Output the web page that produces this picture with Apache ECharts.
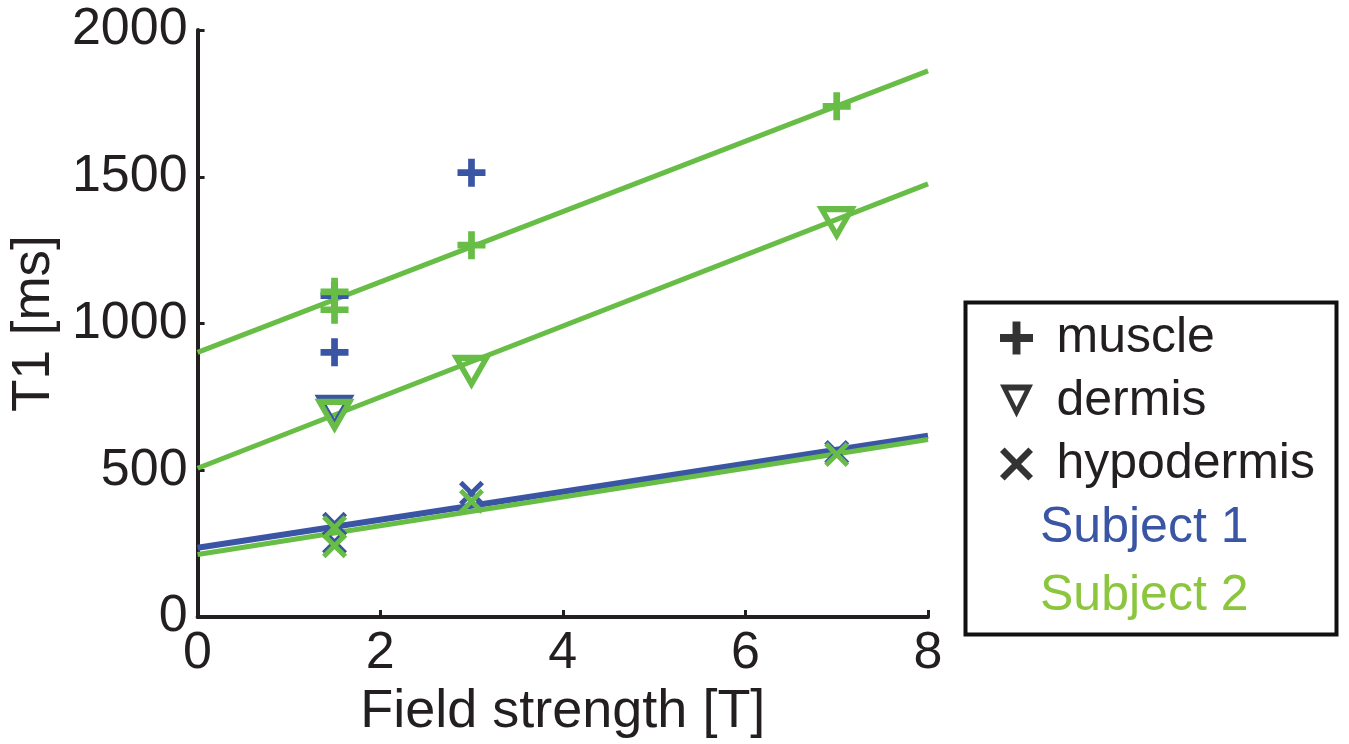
<!DOCTYPE html>
<html>
<head>
<meta charset="utf-8">
<script src="https://cdn.jsdelivr.net/npm/echarts@6/dist/echarts.min.js"></script>
<style>
html,body{margin:0;padding:0;background:#fff;}
#chart{width:1349px;height:744px;}
</style>
</head>
<body>
<div id="chart"></div>
<script>
// ---- data ----
const xTicks = [0, 2, 4, 6, 8];
const yTicks = [0, 500, 1000, 1500, 2000];
const tissues = ['muscle', 'dermis', 'hypodermis'];
const subjects = ['Subject 1', 'Subject 2'];

// Subject 1 (blue) measurements [field T, T1 ms]
const muscleS1 = [[1.5, 1095], [1.5, 902], [3, 1514]];
const dermisS1 = [[1.5, 698]];
const hypoS1 = [[1.5, 316], [1.5, 255], [3, 422], [7, 561]];

// Subject 2 (green) measurements
const muscleS2 = [[1.5, 1108], [1.5, 1047], [3, 1267], [7, 1740]];
const dermisS2 = [[1.5, 684], [3, 834], [7, 1341]];
const hypoS2 = [[1.5, 304], [1.5, 243], [3, 395], [7, 554]];

// Linear fit lines (end points)
const hypoFitS1 = [[0, 236], [8, 618]];
const muscleFitS2 = [[0, 902], [8, 1861]];
const dermisFitS2 = [[0, 507], [8, 1476]];
const hypoFitS2 = [[0, 213], [8, 605]];

// ---- styling ----
const BLUE = '#3b55a5';
const GREEN = '#67bd45';
const GREEN_TXT = '#8cc63f';
const INK = '#231f20';
const FONT = '"Liberation Sans", Arial, Helvetica, sans-serif';

const PLUS = 'path://M38,0 L62,0 L62,38 L100,38 L100,62 L62,62 L62,100 L38,100 L38,62 L0,62 L0,38 L38,38 Z';
const TRI = 'path://M0,0 L100,0 L50,100 Z M25,18 L50,68 L75,18 Z';
const CROSS = 'path://M0,14 L14,0 L50,36 L86,0 L100,14 L64,50 L100,86 L86,100 L50,64 L14,100 L0,86 L36,50 Z';

const symbols = { muscle: PLUS, dermis: TRI, hypodermis: CROSS };
const sizes = { muscle: [28, 28], dermis: [40, 35], hypodermis: [25, 25] };

function scatter(name, tissue, data, color) {
  return {
    type: 'scatter', name: name, data: data,
    symbol: symbols[tissue], symbolSize: sizes[tissue],
    itemStyle: { color: color, opacity: 1 },
    emphasis: { disabled: true }, silent: true, z: 3
  };
}
function fit(name, data, color, width) {
  return {
    type: 'line', name: name, data: data, showSymbol: false, symbol: 'none',
    lineStyle: { color: color, width: width }, itemStyle: { color: color },
    emphasis: { disabled: true }, silent: true, z: 3
  };
}

const series = [
  // Subject 1 (blue) first, so green lies over it
  scatter('Subject 1', 'muscle', muscleS1, BLUE),
  scatter('Subject 1', 'dermis', dermisS1, BLUE),
  scatter('Subject 1', 'hypodermis', hypoS1, BLUE),
  fit('Subject 1', hypoFitS1, BLUE, 6),
  fit('Subject 2', muscleFitS2, GREEN, 5),
  fit('Subject 2', dermisFitS2, GREEN, 5),
  fit('Subject 2', hypoFitS2, GREEN, 5),
  scatter('Subject 2', 'muscle', muscleS2, GREEN),
  scatter('Subject 2', 'dermis', dermisS2, GREEN),
  scatter('Subject 2', 'hypodermis', hypoS2, GREEN),
];
// legend-only series for the marker key
tissues.forEach(t => {
  series.push({
    type: 'scatter', name: t, data: [], symbol: symbols[t], symbolSize: sizes[t],
    itemStyle: { color: '#000' }
  });
});

const chart = echarts.init(document.getElementById('chart'));
chart.setOption({
  backgroundColor: '#fff',
  animation: false,
  grid: { left: 195, right: 421, top: 30, bottom: 122, containLabel: false },
  xAxis: {
    type: 'value', min: xTicks[0], max: xTicks[xTicks.length - 1], interval: 2,
    name: 'Field strength [T]', nameLocation: 'middle', nameGap: 62,
    nameTextStyle: { fontFamily: FONT, fontSize: 54, color: INK },
    axisLine: { onZero: false, lineStyle: { color: INK, width: 4 } },
    axisTick: { inside: true, length: 7, lineStyle: { color: INK, width: 3 } },
    axisLabel: { fontFamily: FONT, fontSize: 52, color: INK, margin: 11,
      formatter: v => String(v) },
    splitLine: { show: false }
  },
  yAxis: {
    type: 'value', min: yTicks[0], max: yTicks[yTicks.length - 1], interval: 500,
    name: 'T1 [ms]', nameLocation: 'middle', nameGap: 134,
    nameTextStyle: { fontFamily: FONT, fontSize: 53, color: INK },
    axisLine: { show: true, onZero: false, lineStyle: { color: INK, width: 4 } },
    axisTick: { show: true, inside: true, length: 7, lineStyle: { color: INK, width: 3 } },
    axisLabel: { fontFamily: FONT, fontSize: 52, color: INK, margin: 10,
      formatter: v => String(v) },
    splitLine: { show: false }
  },
  legend: [
    {
      orient: 'vertical', left: 1000, top: 313, padding: 0,
      itemWidth: 70, itemHeight: 33, itemGap: 13, selectedMode: false,
      data: tissues.map(t => ({ name: t, icon: symbols[t], itemStyle: { color: '#000' } })),
      textStyle: { fontFamily: FONT, fontSize: 50, color: INK }
    },
    {
      orient: 'vertical', left: 1000, top: 503, padding: 0,
      itemWidth: 35, itemHeight: 20, itemGap: 18, selectedMode: false,
      data: [
        { name: subjects[0], icon: 'none', textStyle: { color: BLUE } },
        { name: subjects[1], icon: 'none', textStyle: { color: GREEN_TXT } }
      ],
      textStyle: { fontFamily: FONT, fontSize: 50 }
    }
  ],
  graphic: [{
    type: 'rect', left: 963, top: 300, silent: true,
    shape: { width: 371, height: 332 },
    style: { fill: 'none', stroke: '#111', lineWidth: 4 }
  }],
  series: series
});
</script>
</body>
</html>
